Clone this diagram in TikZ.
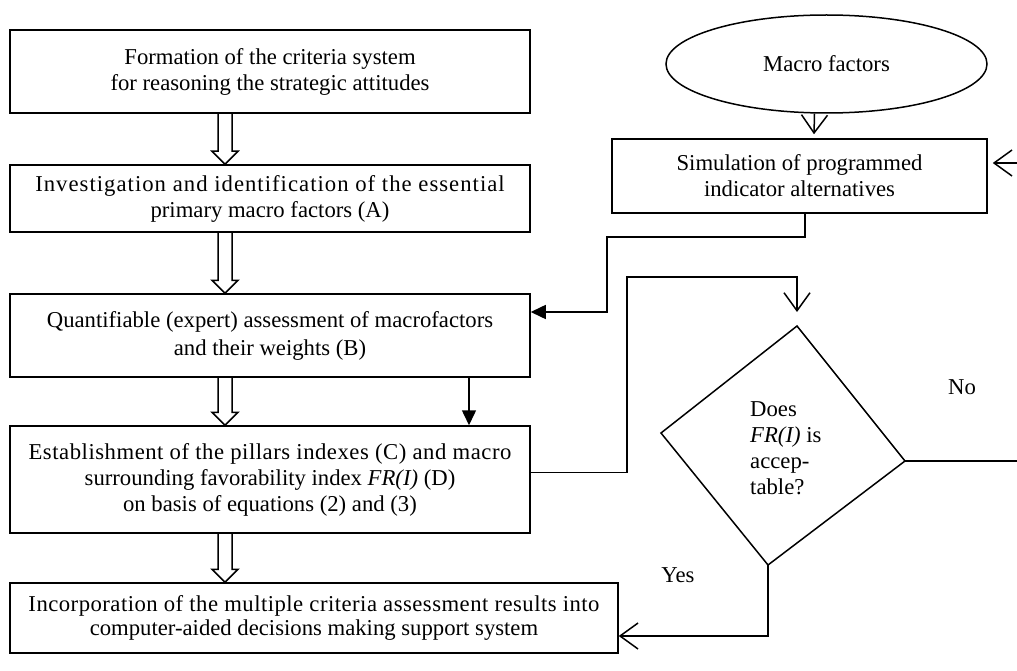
\documentclass[tikz,border=0pt]{standalone}
\usepackage{fontspec}
\setmainfont{Liberation Serif}
\usetikzlibrary{arrows.meta,shapes.geometric,calc}
\tikzset{
  box/.style={draw,line width=1.5pt,rectangle,align=center,inner sep=0pt,
    font=\fontsize{22.7}{26}\selectfont},
  lbl/.style={inner sep=0pt,font=\fontsize{22.7}{26}\selectfont},
  conn/.style={line width=1.5pt},
  barb/.style={conn,-{Straight Barb[length=18pt,width=26pt,line width=1.5pt]}},
  tri/.style={conn,-{Triangle[length=15pt,width=14pt]}},
  hollow/.style={line width=1.5pt,line join=miter}
}
\newcommand\hollowarr[2]{%
  \draw[hollow] let \p1=([xshift=-45pt]#1.south), \p2=([xshift=-45pt]#2.north) in
    ({\x1-7pt},\y1) -- ({\x1-7pt},{\y2+13pt}) -- ({\x1-13pt},{\y2+13pt}) --
    (\x1,\y2) -- ({\x1+13pt},{\y2+13pt}) -- ({\x1+7pt},{\y2+13pt}) -- ({\x1+7pt},\y1);}
\newcommand\spaced[2]{{\addfontfeature{LetterSpace=#1}#2}}
\begin{document}
\begin{tikzpicture}[x=1pt,y=-1pt]
\useasboundingbox (0,0) rectangle (1017,671);
% left column
\node[box,minimum width=520pt,minimum height=83pt] (b1) at (270,71.5)
  {Formation of the criteria system\\for reasoning the strategic attitudes};
\node[box,minimum width=520pt,minimum height=67pt] (b2) at (270,198.5)
  {\spaced{4.5}{Investigation and identification of the essential}\\primary macro factors (A)};
\node[box,minimum width=520pt,minimum height=83pt] (b3) at (270,335.5)
  {Quantifiable (expert) assessment of macrofactors\\[2pt]and their weights (B)};
\node[box,minimum width=520pt,minimum height=107pt] (b4) at (270,479.5)
  {\spaced{2.3}{Establishment of the pillars indexes (C) and macro}\\surrounding favorability index \textit{FR(I)} (D)\\on basis of equations (2) and (3)};
\node[box,minimum width=608pt,minimum height=70pt,text depth=0pt] (b5) at (314,618)
  {\raisebox{5pt}{\shortstack{\spaced{2.1}{Incorporation of the multiple criteria assessment results into}\\computer-aided decisions making support system}}};
% right column
\node[box,shape=ellipse,minimum width=321pt,minimum height=98pt] (ell) at (826.5,64) {Macro factors};
\node[box,minimum width=375pt,minimum height=74pt] (sim) at (799.5,176)
  {Simulation of programmed\\indicator alternatives};
% diamond
\coordinate (dt) at (797,326);
\coordinate (dr) at (905,461);
\coordinate (db) at (768,565);
\coordinate (dl) at (661,433);
\draw[line width=1.5pt,line join=miter] (dt) -- (dr) -- (db) -- (dl) -- cycle;
\node[lbl,align=left,anchor=west] (dq) at (750,448)
  {Does\\\textit{FR(I)} is\\accep-\\table?};
\node[lbl] (no) at (962,387) {No};
\node[lbl] (yes) at (678,575) {Yes};
% helper coordinates
\coordinate (re) at (1017,163);
\coordinate (kx) at (627,277);
\coordinate (fx) at (607,237);
% hollow arrows
\hollowarr{b1}{b2}
\hollowarr{b2}{b3}
\hollowarr{b3}{b4}
\hollowarr{b4}{b5}
% connectors
\draw[tri] ([xshift=199pt]b3.south) -- ([xshift=199pt]b4.north);
\draw[barb] ([xshift=-12pt]ell.south) -- ([xshift=14.5pt,yshift=4pt]sim.north);
\draw[barb,shorten >=5pt] (re) -- (re -| sim.east);
\draw[tri] ([xshift=5.5pt]sim.south) |- (fx) |- ([yshift=23.5pt]b3.east);
\draw[barb] ([yshift=7pt]b4.east) -| (kx) -| ([yshift=14pt]dt);
\draw[conn] (dr) -- (dr -| re);
\draw[barb] (db) |- ([yshift=-18pt]b5.east);
\end{tikzpicture}
\end{document}
